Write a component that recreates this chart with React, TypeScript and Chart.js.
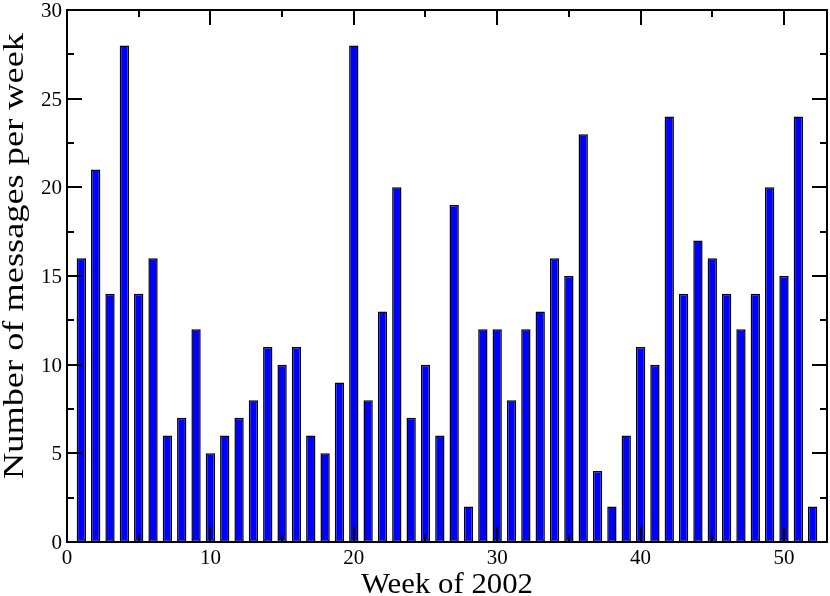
import React, { useEffect, useRef } from "react";
import { Chart, registerables } from "chart.js";

Chart.register(...registerables);

const weeks: number[] = Array.from({ length: 52 }, (_, i) => i + 1);
const messages: number[] = [
  16, 21, 14, 28, 14, 16, 6, 7, 12, 5,
  6, 7, 8, 11, 10, 11, 6, 5, 9, 28,
  8, 13, 20, 7, 10, 6, 19, 2, 12, 12,
  8, 12, 13, 16, 15, 23, 4, 2, 6, 11,
  10, 24, 14, 17, 16, 14, 12, 14, 20, 15,
  24, 2,
];
const xMajorTicks: number[] = [0, 10, 20, 30, 40, 50];
const xMinorTicks: number[] = [5, 15, 25, 35, 45];
const yMajorTicks: number[] = [0, 5, 10, 15, 20, 25, 30];
const yMinorTicks: number[] = [2.5, 7.5, 12.5, 17.5, 22.5, 27.5];
const xTitle = "Week of 2002";
const yTitle = "Number of messages per week";

const FONT = '"Liberation Serif", "Times New Roman", serif';

function stretchedText(ctx: CanvasRenderingContext2D, text: string, targetWidth: number) {
  const w = ctx.measureText(text).width;
  const s = targetWidth / w;
  ctx.save();
  ctx.scale(s, 1);
  ctx.fillText(text, 0, 0);
  ctx.restore();
}

const framePlugin = {
  id: "xmFrame",
  afterDatasetsDraw(chart: any) {
    const { ctx, chartArea } = chart;
    const xs = chart.scales.x;
    const ys = chart.scales.y;
    const { left, right, top, bottom } = chartArea;
    ctx.save();
    ctx.strokeStyle = "#000";
    ctx.lineWidth = 2;
    ctx.strokeRect(left, top, right - left, bottom - top);
    const major = 15;
    const minor = 7;
    ctx.beginPath();
    const xt = (v: number, len: number) => {
      const px = Math.round(xs.getPixelForValue(v));
      ctx.moveTo(px, bottom);
      ctx.lineTo(px, bottom - len);
      ctx.moveTo(px, top);
      ctx.lineTo(px, top + len);
    };
    const yt = (v: number, len: number) => {
      const py = Math.round(ys.getPixelForValue(v));
      ctx.moveTo(left, py);
      ctx.lineTo(left + len, py);
      ctx.moveTo(right, py);
      ctx.lineTo(right - len, py);
    };
    xMajorTicks.forEach((v) => xt(v, major));
    xMinorTicks.forEach((v) => xt(v, minor));
    yMajorTicks.forEach((v) => yt(v, major));
    yMinorTicks.forEach((v) => yt(v, minor));
    ctx.stroke();

    ctx.fillStyle = "#000";
    ctx.font = `21px ${FONT}`;
    ctx.textAlign = "center";
    ctx.textBaseline = "alphabetic";
    xMajorTicks.forEach((v) => {
      ctx.fillText(String(v), xs.getPixelForValue(v), bottom + 22);
    });
    ctx.textAlign = "right";
    yMajorTicks.forEach((v) => {
      ctx.fillText(String(v), left - 5, ys.getPixelForValue(v) + 7);
    });

    ctx.font = `29px ${FONT}`;
    ctx.textAlign = "center";
    ctx.textBaseline = "alphabetic";
    ctx.save();
    ctx.translate((left + right) / 2, bottom + 51);
    stretchedText(ctx, xTitle, 172);
    ctx.restore();
    ctx.save();
    ctx.translate(23, 256);
    ctx.rotate(-Math.PI / 2);
    stretchedText(ctx, yTitle, 446);
    ctx.restore();
    ctx.restore();
  },
};

export default function App() {
  const ref = useRef<HTMLCanvasElement | null>(null);
  useEffect(() => {
    if (!ref.current) return;
    const chart = new Chart(ref.current, {
      type: "bar",
      data: {
        datasets: [
          {
            data: weeks.map((w, i) => ({ x: w, y: messages[i] })),
            backgroundColor: "#0000ff",
            borderColor: "#000000",
            borderWidth: 1.5,
            borderSkipped: false,
            barPercentage: 0.65,
            categoryPercentage: 1,
          },
        ],
      },
      options: {
        animation: false,
        responsive: false,
        layout: { padding: { left: 67, top: 10, right: 3, bottom: 54 } },
        plugins: { legend: { display: false }, tooltip: { enabled: false } },
        scales: {
          x: { type: "linear", min: 0, max: 53, offset: false, display: false },
          y: { type: "linear", min: 0, max: 30, display: false },
        },
      },
      plugins: [framePlugin],
    });
    return () => chart.destroy();
  }, []);
  return (
    <div style={{ position: "absolute", left: 0, top: 0, width: 830, height: 596, background: "#fff" }}>
      <canvas ref={ref} width={830} height={596} style={{ width: 830, height: 596 }} />
    </div>
  );
}
